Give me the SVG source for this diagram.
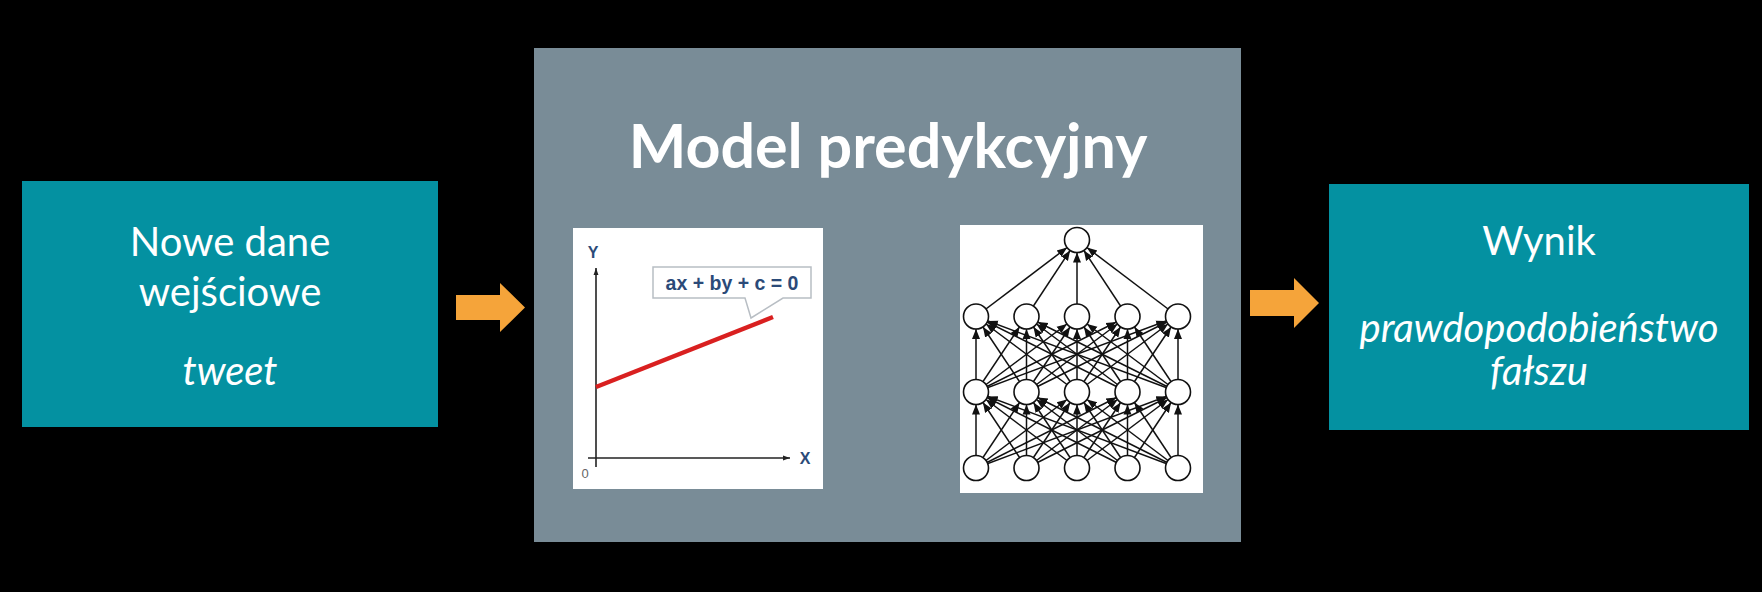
<svg xmlns="http://www.w3.org/2000/svg" width="1762" height="592" viewBox="0 0 1762 592">
<style>
.box{fill:#0491a1}
.lbl{font-family:Lato,"Open Sans","Liberation Sans",sans-serif;font-size:40px;fill:#ffffff;text-anchor:middle}
.it{font-style:italic}
.title{font-family:Lato,"Open Sans","Liberation Sans",sans-serif;font-size:61px;font-weight:bold;fill:#ffffff;text-anchor:middle}
.arrow{fill:#f5a43a}
.nn line{stroke:#111;stroke-width:1.5;marker-end:url(#nnh)}
.nn circle{fill:#fff;stroke:#111;stroke-width:1.6}
.ax{stroke:#222;stroke-width:1.6;marker-end:url(#axh)}
</style>
<defs>
<marker id="nnh" markerUnits="userSpaceOnUse" markerWidth="10" markerHeight="10" viewBox="0 0 10 10" refX="22.5" refY="5" orient="auto"><path d="M0,1 L10,5 L0,9 z" fill="#111"/></marker>
<marker id="axh" markerUnits="userSpaceOnUse" markerWidth="7" markerHeight="7" viewBox="0 0 10 10" refX="10" refY="5" orient="auto"><path d="M0,1.5 L10,5 L0,8.5 z" fill="#222"/></marker>
</defs>
<rect x="0" y="0" width="1762" height="592" fill="#000"/>

<g id="input">
<rect class="box" x="22" y="181" width="416" height="246"/>
<text class="lbl" x="230" y="256">Nowe dane</text>
<text class="lbl" x="230" y="306">wejściowe</text>
<text class="lbl it" x="230" y="385">tweet</text>
</g>

<g id="model">
<rect x="534" y="48" width="707" height="494" fill="#798c97"/>
<text class="title" x="888" y="168">Model predykcyjny</text>
<g id="linear-plot">
<rect x="573" y="228" width="250" height="261" fill="#fff"/>
<line class="ax" x1="596" y1="467" x2="596" y2="268"/>
<line class="ax" x1="588" y1="458" x2="790" y2="458"/>
<text x="593" y="258" font-family="Liberation Sans,Arial,sans-serif" font-size="16" font-weight="bold" fill="#2b4a78" text-anchor="middle">Y</text>
<text x="805" y="464" font-family="Liberation Sans,Arial,sans-serif" font-size="16" font-weight="bold" fill="#2b4a78" text-anchor="middle">X</text>
<text x="585" y="478" font-family="Liberation Sans,Arial,sans-serif" font-size="13" fill="#666" text-anchor="middle">0</text>
<line x1="596" y1="387" x2="773" y2="317" stroke="#d92020" stroke-width="4.5"/>
<path d="M653,267 H811 V298 H783 L751,318 L745,298 H653 Z" fill="#fff" stroke="#b8bec4" stroke-width="1.5"/>
<text x="732" y="290" font-family="Liberation Sans,Arial,sans-serif" font-size="19.5" font-weight="bold" fill="#2b4a78" text-anchor="middle">ax + by + c = 0</text>
</g>
<g id="neural-net" class="nn">
<rect x="960" y="225" width="243" height="268" fill="#fff"/>
<line x1="976" y1="468" x2="976" y2="392"/><line x1="976" y1="468" x2="1026.5" y2="392"/><line x1="976" y1="468" x2="1077" y2="392"/><line x1="976" y1="468" x2="1127.5" y2="392"/><line x1="976" y1="468" x2="1178" y2="392"/>
<line x1="1026.5" y1="468" x2="976" y2="392"/><line x1="1026.5" y1="468" x2="1026.5" y2="392"/><line x1="1026.5" y1="468" x2="1077" y2="392"/><line x1="1026.5" y1="468" x2="1127.5" y2="392"/><line x1="1026.5" y1="468" x2="1178" y2="392"/>
<line x1="1077" y1="468" x2="976" y2="392"/><line x1="1077" y1="468" x2="1026.5" y2="392"/><line x1="1077" y1="468" x2="1077" y2="392"/><line x1="1077" y1="468" x2="1127.5" y2="392"/><line x1="1077" y1="468" x2="1178" y2="392"/>
<line x1="1127.5" y1="468" x2="976" y2="392"/><line x1="1127.5" y1="468" x2="1026.5" y2="392"/><line x1="1127.5" y1="468" x2="1077" y2="392"/><line x1="1127.5" y1="468" x2="1127.5" y2="392"/><line x1="1127.5" y1="468" x2="1178" y2="392"/>
<line x1="1178" y1="468" x2="976" y2="392"/><line x1="1178" y1="468" x2="1026.5" y2="392"/><line x1="1178" y1="468" x2="1077" y2="392"/><line x1="1178" y1="468" x2="1127.5" y2="392"/><line x1="1178" y1="468" x2="1178" y2="392"/>
<line x1="976" y1="392" x2="976" y2="316.5"/><line x1="976" y1="392" x2="1026.5" y2="316.5"/><line x1="976" y1="392" x2="1077" y2="316.5"/><line x1="976" y1="392" x2="1127.5" y2="316.5"/><line x1="976" y1="392" x2="1178" y2="316.5"/>
<line x1="1026.5" y1="392" x2="976" y2="316.5"/><line x1="1026.5" y1="392" x2="1026.5" y2="316.5"/><line x1="1026.5" y1="392" x2="1077" y2="316.5"/><line x1="1026.5" y1="392" x2="1127.5" y2="316.5"/><line x1="1026.5" y1="392" x2="1178" y2="316.5"/>
<line x1="1077" y1="392" x2="976" y2="316.5"/><line x1="1077" y1="392" x2="1026.5" y2="316.5"/><line x1="1077" y1="392" x2="1077" y2="316.5"/><line x1="1077" y1="392" x2="1127.5" y2="316.5"/><line x1="1077" y1="392" x2="1178" y2="316.5"/>
<line x1="1127.5" y1="392" x2="976" y2="316.5"/><line x1="1127.5" y1="392" x2="1026.5" y2="316.5"/><line x1="1127.5" y1="392" x2="1077" y2="316.5"/><line x1="1127.5" y1="392" x2="1127.5" y2="316.5"/><line x1="1127.5" y1="392" x2="1178" y2="316.5"/>
<line x1="1178" y1="392" x2="976" y2="316.5"/><line x1="1178" y1="392" x2="1026.5" y2="316.5"/><line x1="1178" y1="392" x2="1077" y2="316.5"/><line x1="1178" y1="392" x2="1127.5" y2="316.5"/><line x1="1178" y1="392" x2="1178" y2="316.5"/>
<line x1="976" y1="316.5" x2="1077" y2="240"/><line x1="1026.5" y1="316.5" x2="1077" y2="240"/><line x1="1077" y1="316.5" x2="1077" y2="240"/><line x1="1127.5" y1="316.5" x2="1077" y2="240"/><line x1="1178" y1="316.5" x2="1077" y2="240"/>
<circle cx="1077" cy="240" r="12.5"/>
<circle cx="976" cy="316.5" r="12.5"/><circle cx="1026.5" cy="316.5" r="12.5"/><circle cx="1077" cy="316.5" r="12.5"/><circle cx="1127.5" cy="316.5" r="12.5"/><circle cx="1178" cy="316.5" r="12.5"/>
<circle cx="976" cy="392" r="12.5"/><circle cx="1026.5" cy="392" r="12.5"/><circle cx="1077" cy="392" r="12.5"/><circle cx="1127.5" cy="392" r="12.5"/><circle cx="1178" cy="392" r="12.5"/>
<circle cx="976" cy="468" r="12.5"/><circle cx="1026.5" cy="468" r="12.5"/><circle cx="1077" cy="468" r="12.5"/><circle cx="1127.5" cy="468" r="12.5"/><circle cx="1178" cy="468" r="12.5"/>
</g>
</g>

<g id="output">
<rect class="box" x="1329" y="184" width="420" height="246"/>
<text class="lbl" x="1539" y="255">Wynik</text>
<text class="lbl it" x="1539" y="342">prawdopodobieństwo<tspan x="1539" y="385">fałszu</tspan></text>
</g>

<g id="connectors">
<polygon class="arrow" points="456,295 500,295 500,283 525,307.5 500,332 500,320 456,320"/>
<polygon class="arrow" points="1250,290 1294,290 1294,278 1319,303 1294,328 1294,316 1250,316"/>
</g>
</svg>
